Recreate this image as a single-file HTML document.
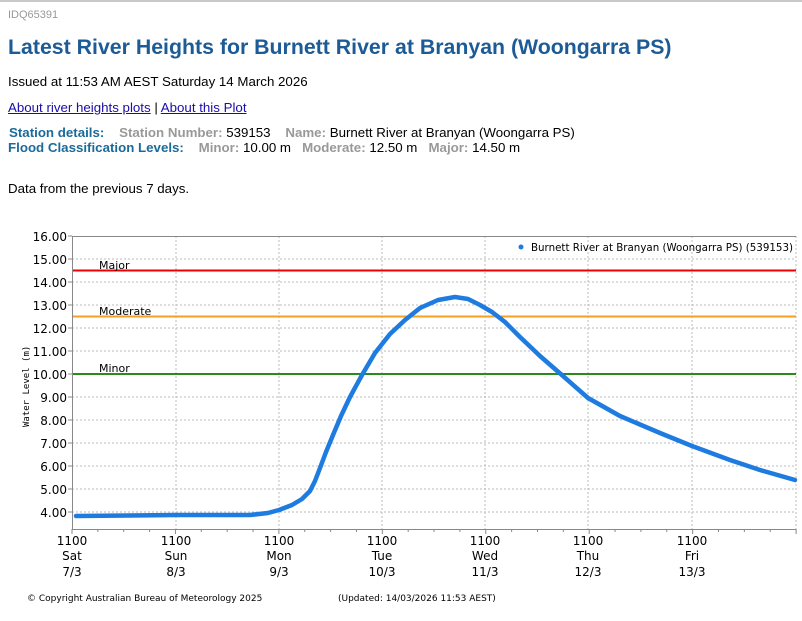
<!DOCTYPE html>
<html><head><meta charset="utf-8"><style>
body{margin:0;width:802px;height:621px;background:#fff;font-family:"Liberation Sans",Arial,sans-serif;position:relative;overflow:hidden}
.t{position:absolute;white-space:nowrap}
a{color:#1a0dab;text-decoration:underline}
.b{color:#1a6a9a;font-weight:bold}
.g{color:#999;font-weight:bold}
</style></head><body>
<div style="position:absolute;left:0;top:0;width:802px;height:2px;background:#c8c8c8"></div>
<div class="t" style="left:8px;top:9px;font-size:11px;color:#999">IDQ65391</div>
<div class="t" style="left:8px;top:35px;font-size:21.3px;font-weight:bold;color:#1d5b96">Latest River Heights for Burnett River at Branyan (Woongarra PS)</div>
<div class="t" style="left:8px;top:74px;font-size:13.3px;color:#000">Issued at 11:53 AM AEST Saturday 14 March 2026</div>
<div class="t" style="left:8px;top:100px;font-size:13.3px"><a>About river heights plots</a> | <a>About this Plot</a></div>
<div class="t" style="left:9px;top:125px;font-size:13.3px"><span class="b">Station details:</span>&nbsp;&nbsp;&nbsp; <span class="g">Station Number:</span> 539153 &nbsp;&nbsp; <span class="g">Name:</span> Burnett River at Branyan (Woongarra PS)</div>
<div class="t" style="left:8px;top:140px;font-size:13.3px"><span class="b">Flood Classification Levels:</span>&nbsp;&nbsp;&nbsp; <span class="g">Minor:</span> 10.00 m &nbsp; <span class="g">Moderate:</span> 12.50 m &nbsp; <span class="g">Major:</span> 14.50 m</div>
<div class="t" style="left:8px;top:181px;font-size:13.3px">Data from the previous 7 days.</div>
<svg style="position:absolute;left:0;top:0" width="802" height="621" font-family="DejaVu Sans, sans-serif">
<g stroke="#bbb" stroke-dasharray="2,2" stroke-width="1">
<line x1="72" x2="796" y1="259" y2="259"/><line x1="72" x2="796" y1="282" y2="282"/><line x1="72" x2="796" y1="305" y2="305"/><line x1="72" x2="796" y1="328" y2="328"/><line x1="72" x2="796" y1="351" y2="351"/><line x1="72" x2="796" y1="374" y2="374"/><line x1="72" x2="796" y1="397" y2="397"/><line x1="72" x2="796" y1="420" y2="420"/><line x1="72" x2="796" y1="443" y2="443"/><line x1="72" x2="796" y1="466" y2="466"/><line x1="72" x2="796" y1="489" y2="489"/><line x1="72" x2="796" y1="512" y2="512"/>
<line x1="176" x2="176" y1="236" y2="529"/><line x1="279" x2="279" y1="236" y2="529"/><line x1="382" x2="382" y1="236" y2="529"/><line x1="485" x2="485" y1="236" y2="529"/><line x1="588" x2="588" y1="236" y2="529"/><line x1="692" x2="692" y1="236" y2="529"/><line x1="796" x2="796" y1="236" y2="529"/>
</g>
<line x1="72" x2="796" y1="236.5" y2="236.5" stroke="#888"/>
<line x1="72.5" x2="72.5" y1="236" y2="530" stroke="#888"/>
<line x1="72" x2="796" y1="529.5" y2="529.5" stroke="#888"/>
<g stroke="#888">
<line x1="68" x2="72" y1="236" y2="236"/><line x1="68" x2="72" y1="259" y2="259"/><line x1="68" x2="72" y1="282" y2="282"/><line x1="68" x2="72" y1="305" y2="305"/><line x1="68" x2="72" y1="328" y2="328"/><line x1="68" x2="72" y1="351" y2="351"/><line x1="68" x2="72" y1="374" y2="374"/><line x1="68" x2="72" y1="397" y2="397"/><line x1="68" x2="72" y1="420" y2="420"/><line x1="68" x2="72" y1="443" y2="443"/><line x1="68" x2="72" y1="466" y2="466"/><line x1="68" x2="72" y1="489" y2="489"/><line x1="68" x2="72" y1="512" y2="512"/>
</g>
<g id="xt" stroke="#888"></g>
<line x1="73" x2="796" y1="270.5" y2="270.5" stroke="#e00" stroke-width="2"/>
<line x1="73" x2="796" y1="316.5" y2="316.5" stroke="#f5a020" stroke-width="2"/>
<line x1="73" x2="796" y1="374" y2="374" stroke="#2a8a1a" stroke-width="2"/>
<g font-size="11" fill="#000">
<text x="99" y="269">Major</text><text x="99" y="315">Moderate</text><text x="99" y="372">Minor</text>
</g>
<polyline fill="none" stroke="#1e7be0" stroke-width="4.5" stroke-linejoin="round" stroke-linecap="round" points="76,516 130,515.5 176,515 250,515 268,513 279,510 292,505 302,499 310,491 315,481 320,468 326,452 333,435 341,416 350,397 362,375 375,353 390,334 405,320 420,308 438,300 455,297 468,299 480,305 492,312 505,322 520,337 540,356 563,376 588,398 620,416 660,433 692,446 730,460 760,470 795,480"/>
<circle cx="521" cy="247" r="2.5" fill="#1e7be0"/>
<text x="531" y="251" font-size="11" textLength="262" lengthAdjust="spacingAndGlyphs">Burnett River at Branyan (Woongarra PS) (539153)</text>
<g font-size="12" text-anchor="end" fill="#000">
<text x="67" y="241">16.00</text><text x="67" y="264">15.00</text><text x="67" y="287">14.00</text><text x="67" y="310">13.00</text><text x="67" y="333">12.00</text><text x="67" y="356">11.00</text><text x="67" y="379">10.00</text><text x="67" y="402">9.00</text><text x="67" y="425">8.00</text><text x="67" y="448">7.00</text><text x="67" y="471">6.00</text><text x="67" y="494">5.00</text><text x="67" y="517">4.00</text>
</g>
<text transform="translate(29,427) rotate(-90)" font-size="9" font-family="DejaVu Sans Mono, monospace">Water Level (m)</text>
<g font-size="12" text-anchor="middle" fill="#000">
<text x="72" y="545">1100</text><text x="72" y="560">Sat</text><text x="72" y="576">7/3</text>
<text x="176" y="545">1100</text><text x="176" y="560">Sun</text><text x="176" y="576">8/3</text>
<text x="279" y="545">1100</text><text x="279" y="560">Mon</text><text x="279" y="576">9/3</text>
<text x="382" y="545">1100</text><text x="382" y="560">Tue</text><text x="382" y="576">10/3</text>
<text x="485" y="545">1100</text><text x="485" y="560">Wed</text><text x="485" y="576">11/3</text>
<text x="588" y="545">1100</text><text x="588" y="560">Thu</text><text x="588" y="576">12/3</text>
<text x="692" y="545">1100</text><text x="692" y="560">Fri</text><text x="692" y="576">13/3</text>
</g>
<text x="27" y="601" font-size="9">© Copyright Australian Bureau of Meteorology 2025</text>
<text x="338" y="601" font-size="9">(Updated: 14/03/2026 11:53 AEST)</text>
</svg>
<script>
var g=document.getElementById('xt'),s='';
for(var i=0;i<=28;i++){var x=72+i*25.86;var l=(i%4==0)?5:3;s+='<line x1="'+x+'" x2="'+x+'" y1="529" y2="'+(529+l)+'"/>';}
g.innerHTML=s;
</script>
</body></html>
